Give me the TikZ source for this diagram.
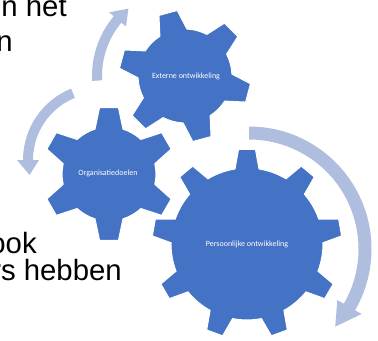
\documentclass[tikz,border=0pt]{standalone}
\usepackage{fontspec}
\setmainfont{Liberation Sans}
\newfontfamily\labelfont{Carlito}
\definecolor{gearblue}{RGB}{68,114,196}
\definecolor{arrowblue}{RGB}{175,189,222}

\tikzset{
  gearbody/.style={fill=gearblue, draw=white, line width=0.8pt, line join=miter},
  geartext/.style={text=white, font=\labelfont\fontsize{6}{7}\selectfont, inner sep=0pt},
  cyclearrow/.style={fill=arrowblue},
  slidetext/.style={font=\fontsize{22}{26}\selectfont, anchor=base east, inner sep=0pt},
}

% gear: centre x, centre y, teeth, first tooth angle, outer radius, body radius,
% half width of a tooth at its tip, half width at its root
\newcommand\drawgear[8]{%
  \pgfmathsetmacro\gtip{asin(#7/#5)}%
  \pgfmathsetmacro\groot{asin(#8/#6)}%
  \pgfmathsetmacro\gpitch{360/#3}%
  \begin{scope}[shift={(#1,#2)}]
    \filldraw[gearbody] ({#4-\groot}:#6)
      \foreach \k in {1,...,#3}{
        -- ({#4+(\k-1)*\gpitch-\groot}:#6)
        -- ({#4+(\k-1)*\gpitch-\gtip}:#5)
        -- ({#4+(\k-1)*\gpitch+\gtip}:#5)
        -- ({#4+(\k-1)*\gpitch+\groot}:#6)
        arc[start angle={#4+(\k-1)*\gpitch+\groot}, end angle={#4+\k*\gpitch-\groot}, radius=#6]
      } -- cycle;
  \end{scope}}

% curved arrow: centre x, centre y, radius, band width, start angle, end angle,
% tip angle, half width of the head
\newcommand\cyclearc[8]{%
  \begin{scope}[shift={(#1,#2)}]
    \fill[cyclearrow] ({#5}:{#3+#4/2})
      arc[start angle=#5, end angle=#6, radius={#3+#4/2}]
      -- ({#6}:{#3+#8}) -- ({#7}:#3) -- ({#6}:{#3-#8})
      -- ({#6}:{#3-#4/2})
      arc[start angle=#6, end angle=#5, radius={#3-#4/2}] -- cycle;
  \end{scope}}

\begin{document}
\begin{tikzpicture}[x=0.75pt, y=0.75pt]
  \clip (0,0) rectangle (378,340);

  % slide text running in from the left
  \node[slidetext] (t1) at (67,323) {n het};
  \node[slidetext] (t2) at (13,288) {n};
  \node[slidetext] (t3) at (37,87) {ook};
  \node[slidetext] (t4) at (122,60) {rs hebben};

  % arrows turning round the gears
  \cyclearc{185}{264}{88}{10}{183}{140}{130}{11}
  \cyclearc{100}{180}{72}{10}{112}{180}{192}{11}
  \cyclearc{249}{91}{116}{13}{90}{-30}{-42}{14}

  % gears
  \drawgear{185}{264}{6}{45}{66}{47}{9.5}{14}
  \drawgear{109}{166}{6}{90}{67}{47}{9.5}{14}
  \drawgear{247}{96}{9}{90}{95}{76}{8.5}{12}

  \node[geartext] (g1) at (186,264) {Externe ontwikkeling};
  \node[geartext] (g2) at (108,167) {Organisatiedoelen};
  \node[geartext] (g3) at (247,96) {Persoonlijke ontwikkeling};
\end{tikzpicture}
\end{document}
